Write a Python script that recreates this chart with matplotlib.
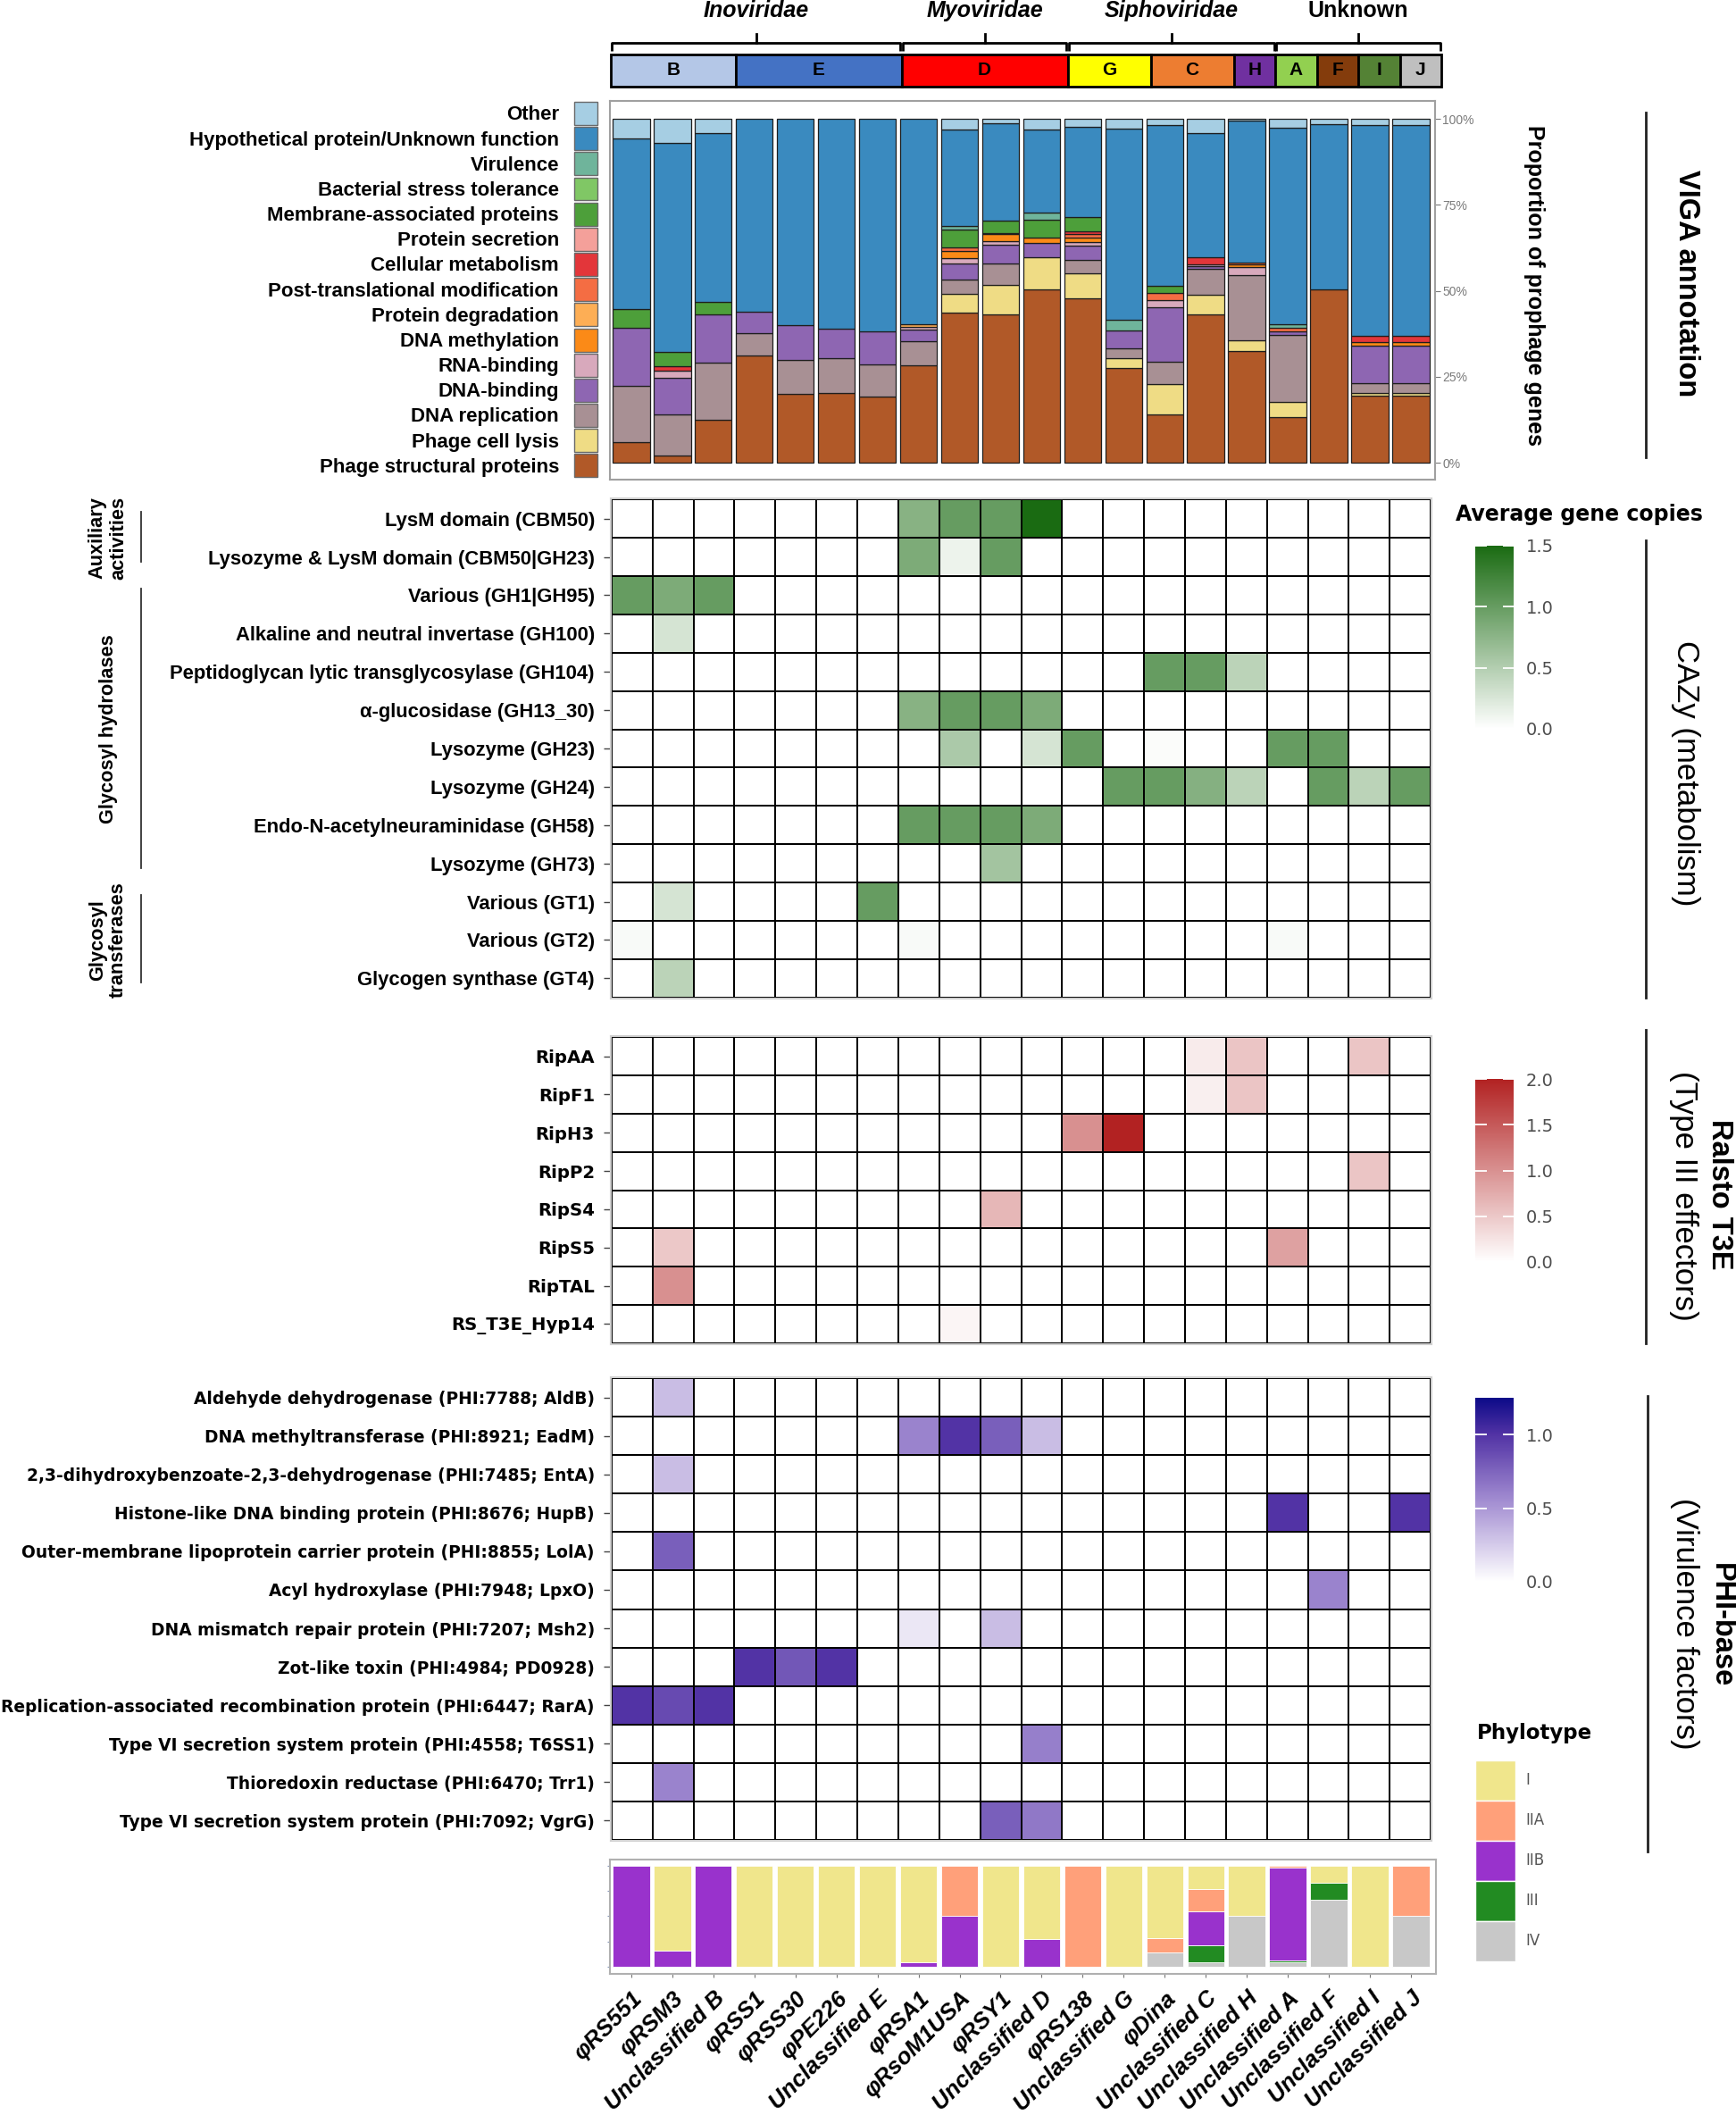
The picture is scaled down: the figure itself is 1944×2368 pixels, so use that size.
import numpy as np
import matplotlib.pyplot as plt
from matplotlib.colors import LinearSegmentedColormap, Normalize
from matplotlib.cm import ScalarMappable
from matplotlib.patches import Patch
from matplotlib.lines import Line2D
from matplotlib.transforms import blended_transform_factory

plt.rcParams['font.family'] = ['Liberation Sans', 'DejaVu Sans']

W, H = 1944, 2368


def box(x0, y0, x1, y1):
    # pixel box (top-left origin) -> figure fraction rect
    return [x0 / W, 1 - y1 / H, (x1 - x0) / W, (y1 - y0) / H]


def fx(x):
    return x / W


def fy(y):
    return 1 - y / H


# ---------------- data ----------------
phages = ['φRS551', 'φRSM3', 'Unclassified B', 'φRSS1', 'φRSS30', 'φPE226', 'Unclassified E',
          'φRSA1', 'φRsoM1USA', 'φRSY1', 'Unclassified D', 'φRS138', 'Unclassified G', 'φDina',
          'Unclassified C', 'Unclassified H', 'Unclassified A', 'Unclassified F', 'Unclassified I',
          'Unclassified J']

clusters = ['B', 'E', 'D', 'G', 'C', 'H', 'A', 'F', 'I', 'J']
cluster_sizes = [3, 4, 4, 2, 2, 1, 1, 1, 1, 1]
cluster_colors = ['#b4c7e7', '#4472c4', '#ff0000', '#ffff00', '#ed7d31', '#7030a0',
                  '#92d050', '#843c0c', '#548235', '#bfbfbf']
families = ['Inoviridae', 'Myoviridae', 'Siphoviridae', 'Unknown']
family_sizes = [7, 4, 5, 4]

# VIGA annotation (% of prophage genes), bottom -> top
structural = [6.0, 2.2, 12.5, 31.1, 20.1, 20.3, 19.2, 28.3, 43.2, 42.8, 50.1, 47.5, 27.5, 14.0, 42.8, 32.2, 13.1, 50.3, 19.2, 19.2]
cell_lysis = [0, 0, 0, 0, 0, 0, 0, 0, 5.4, 8.5, 9.2, 7.1, 2.9, 8.7, 5.6, 3.2, 4.4, 0, 0.9, 0.9]
dna_replication = [16.2, 11.8, 16.7, 6.5, 9.9, 10.2, 9.3, 7.0, 4.3, 6.0, 0, 3.9, 2.7, 6.7, 7.6, 18.8, 19.2, 0, 2.9, 2.9]
dna_binding = [16.6, 10.6, 14.0, 6.2, 9.9, 8.4, 9.7, 3.4, 4.5, 5.6, 4.1, 4.1, 5.3, 15.7, 0.7, 0, 1.1, 0, 10.6, 10.6]
rna_binding = [0, 2.2, 0, 0, 0, 0, 0, 0.8, 1.7, 1.0, 0, 1.1, 0, 2.0, 0.4, 2.2, 0, 0, 0, 0]
dna_methylation = [0, 0, 0, 0, 0, 0, 0, 0, 2.0, 1.9, 1.7, 1.1, 0, 0, 0, 0.8, 0, 0, 1.0, 1.0]
protein_degradation = [0, 0, 0, 0, 0, 0, 0, 0.8, 0, 0, 0, 0, 0, 0, 0, 0, 0, 0, 0, 0]
post_translational = [0, 0, 0, 0, 0, 0, 0, 0, 1.0, 0, 0, 1.0, 0, 2.0, 0, 0.7, 1.1, 0, 0, 0]
cellular_metabolism = [0, 1.3, 0, 0, 0, 0, 0, 0, 0, 0.3, 0, 0.9, 0, 0, 2.2, 0, 0, 0, 1.8, 1.8]
protein_secretion = [0] * 20
membrane = [5.4, 4.1, 3.5, 0, 0, 0, 0, 0, 5.2, 3.6, 5.2, 4.1, 0, 2.2, 0, 0, 0, 0, 0, 0]
stress_tolerance = [0] * 20
virulence = [0, 0, 0, 0, 0, 0, 0, 0, 1.0, 0, 2.0, 0, 2.9, 0, 0, 0, 1.1, 0, 0, 0]
hypothetical = [49.3, 60.7, 49.3, 56.2, 60.1, 61.1, 61.8, 59.7, 27.7, 28.1, 24.1, 26.1, 55.5, 46.5, 35.6, 40.9, 56.4, 48.0, 60.6, 60.6]
other = [5.6, 6.9, 4.1, 0, 0, 0, 0, 0, 3.2, 1.3, 3.0, 2.2, 2.8, 1.9, 4.2, 0.5, 2.6, 1.6, 1.9, 1.9]

viga_labels = ['Phage structural proteins', 'Phage cell lysis', 'DNA replication', 'DNA-binding',
               'RNA-binding', 'DNA methylation', 'Protein degradation', 'Post-translational modification',
               'Cellular metabolism', 'Protein secretion', 'Membrane-associated proteins',
               'Bacterial stress tolerance', 'Virulence', 'Hypothetical protein/Unknown function', 'Other']
viga_values = [structural, cell_lysis, dna_replication, dna_binding, rna_binding, dna_methylation,
               protein_degradation, post_translational, cellular_metabolism, protein_secretion,
               membrane, stress_tolerance, virulence, hypothetical, other]
viga_colors = ['#b15928', '#efdc85', '#a89094', '#8e66b2', '#d8a9bc', '#fb8a17', '#fdae55',
               '#f46d43', '#e3363a', '#f4a09a', '#4d9f3a', '#80c765', '#6fb49b', '#3a8abf', '#a6cee3']

# CAZy (average gene copies)
cazy_rows = ['LysM domain (CBM50)', 'Lysozyme & LysM domain (CBM50|GH23)', 'Various (GH1|GH95)',
             'Alkaline and neutral invertase (GH100)', 'Peptidoglycan lytic transglycosylase (GH104)',
             'α-glucosidase (GH13_30)', 'Lysozyme (GH23)', 'Lysozyme (GH24)',
             'Endo-N-acetylneuraminidase (GH58)', 'Lysozyme (GH73)', 'Various (GT1)', 'Various (GT2)',
             'Glycogen synthase (GT4)']
cazy_values = [
    [0, 0, 0, 0, 0, 0, 0, 0.78, 1.0, 1.0, 1.5, 0, 0, 0, 0, 0, 0, 0, 0, 0],
    [0, 0, 0, 0, 0, 0, 0, 0.85, 0.12, 1.0, 0, 0, 0, 0, 0, 0, 0, 0, 0, 0],
    [1.0, 0.85, 1.0, 0, 0, 0, 0, 0, 0, 0, 0, 0, 0, 0, 0, 0, 0, 0, 0, 0],
    [0, 0.28, 0, 0, 0, 0, 0, 0, 0, 0, 0, 0, 0, 0, 0, 0, 0, 0, 0, 0],
    [0, 0, 0, 0, 0, 0, 0, 0, 0, 0, 0, 0, 0, 1.0, 1.0, 0.45, 0, 0, 0, 0],
    [0, 0, 0, 0, 0, 0, 0, 0.78, 1.0, 1.0, 0.85, 0, 0, 0, 0, 0, 0, 0, 0, 0],
    [0, 0, 0, 0, 0, 0, 0, 0, 0.55, 0, 0.28, 1.0, 0, 0.03, 0, 0, 1.0, 1.0, 0, 0],
    [0, 0, 0, 0, 0, 0, 0, 0, 0, 0, 0, 0, 1.0, 1.0, 0.8, 0.45, 0, 1.0, 0.45, 1.0],
    [0, 0, 0, 0, 0, 0, 0, 1.0, 1.0, 1.0, 0.85, 0, 0, 0, 0, 0, 0, 0, 0, 0],
    [0, 0, 0, 0, 0, 0, 0, 0, 0, 0.6, 0, 0, 0, 0, 0, 0, 0, 0, 0, 0],
    [0, 0.28, 0, 0, 0, 0, 1.0, 0, 0, 0, 0, 0, 0, 0, 0, 0, 0, 0, 0, 0],
    [0.05, 0, 0, 0, 0, 0, 0, 0.05, 0, 0, 0, 0, 0, 0, 0, 0, 0.05, 0, 0, 0],
    [0, 0.45, 0, 0, 0, 0, 0, 0, 0, 0, 0, 0, 0, 0, 0, 0, 0, 0, 0, 0],
]
cazy_groups = ['Auxiliary\nactivities', 'Glycosyl hydrolases', 'Glycosyl\ntransferases']
cazy_group_rows = [(0, 2), (2, 10), (10, 13)]

# Ralstonia type III effectors
t3e_rows = ['RipAA', 'RipF1', 'RipH3', 'RipP2', 'RipS4', 'RipS5', 'RipTAL', 'RS_T3E_Hyp14']
t3e_values = [
    [0, 0, 0, 0, 0, 0, 0, 0, 0, 0, 0, 0, 0, 0, 0.18, 0.53, 0, 0, 0.53, 0],
    [0, 0, 0, 0, 0, 0, 0, 0, 0, 0, 0, 0, 0, 0, 0.15, 0.53, 0, 0, 0, 0],
    [0, 0, 0, 0, 0, 0, 0, 0, 0, 0, 0, 1.0, 2.0, 0, 0, 0, 0, 0, 0, 0],
    [0, 0, 0, 0, 0, 0, 0, 0, 0, 0, 0, 0, 0, 0, 0, 0, 0, 0, 0.53, 0],
    [0, 0, 0, 0, 0, 0, 0, 0, 0, 0.65, 0, 0, 0, 0, 0, 0, 0, 0, 0, 0],
    [0, 0.5, 0, 0, 0, 0, 0, 0, 0, 0, 0, 0, 0, 0, 0, 0, 0.85, 0, 0, 0],
    [0, 1.0, 0, 0, 0, 0, 0, 0, 0, 0, 0, 0, 0, 0, 0, 0, 0, 0, 0, 0],
    [0, 0, 0, 0, 0, 0, 0, 0, 0.1, 0, 0, 0, 0, 0, 0, 0, 0, 0, 0, 0],
]

# PHI-base virulence factors
phi_rows = ['Aldehyde dehydrogenase (PHI:7788; AldB)', 'DNA methyltransferase (PHI:8921; EadM)',
            '2,3-dihydroxybenzoate-2,3-dehydrogenase (PHI:7485; EntA)',
            'Histone-like DNA binding protein (PHI:8676; HupB)',
            'Outer-membrane lipoprotein carrier protein (PHI:8855; LolA)',
            'Acyl hydroxylase (PHI:7948; LpxO)', 'DNA mismatch repair protein (PHI:7207; Msh2)',
            'Zot-like toxin (PHI:4984; PD0928)',
            'Replication-associated recombination protein (PHI:6447; RarA)',
            'Type VI secretion system protein (PHI:4558; T6SS1)', 'Thioredoxin reductase (PHI:6470; Trr1)',
            'Type VI secretion system protein (PHI:7092; VgrG)']
phi_values = [
    [0, 0.32, 0, 0, 0, 0, 0, 0, 0, 0, 0, 0, 0, 0, 0, 0, 0, 0, 0, 0],
    [0, 0, 0, 0, 0, 0, 0, 0.6, 1.0, 0.78, 0.32, 0, 0, 0, 0, 0, 0, 0, 0, 0],
    [0, 0.32, 0, 0, 0, 0, 0, 0, 0, 0, 0, 0, 0, 0, 0, 0, 0, 0, 0, 0],
    [0, 0, 0, 0, 0, 0, 0, 0, 0, 0, 0, 0, 0, 0, 0, 0, 1.0, 0, 0, 1.0],
    [0, 0.78, 0, 0, 0, 0, 0, 0, 0, 0, 0, 0, 0, 0, 0, 0, 0, 0, 0, 0],
    [0, 0, 0, 0, 0, 0, 0, 0, 0, 0, 0, 0, 0, 0, 0, 0, 0, 0.6, 0, 0],
    [0, 0, 0, 0, 0, 0, 0, 0.12, 0, 0.32, 0, 0, 0, 0, 0, 0, 0, 0, 0, 0],
    [0, 0, 0, 1.0, 0.82, 1.0, 0, 0, 0, 0, 0, 0, 0, 0, 0, 0, 0, 0, 0, 0],
    [1.0, 0.88, 1.0, 0, 0, 0, 0, 0, 0, 0, 0, 0, 0, 0, 0, 0, 0, 0, 0, 0],
    [0, 0, 0, 0, 0, 0, 0, 0, 0, 0, 0.62, 0, 0, 0, 0, 0, 0, 0, 0, 0],
    [0, 0.6, 0, 0, 0, 0, 0, 0, 0, 0, 0, 0, 0, 0, 0, 0, 0, 0, 0, 0],
    [0, 0, 0, 0, 0, 0, 0, 0, 0, 0.78, 0.65, 0, 0, 0, 0, 0, 0, 0, 0, 0],
]

# host phylotype fractions, bottom -> top
phylo_IV = [0, 0, 0, 0, 0, 0, 0, 0, 0, 0, 0, 0, 0, 0.14, 0.045, 0.5, 0.04, 0.665, 0, 0.5]
phylo_III = [0, 0, 0, 0, 0, 0, 0, 0, 0, 0, 0, 0, 0, 0, 0.17, 0, 0.025, 0.165, 0, 0]
phylo_IIB = [1, 0.16, 1, 0, 0, 0, 0, 0.04, 0.5, 0, 0.27, 0, 0, 0, 0.335, 0, 0.92, 0, 0, 0]
phylo_IIA = [0, 0, 0, 0, 0, 0, 0, 0, 0.5, 0, 0, 1, 0, 0.14, 0.22, 0, 0.015, 0, 0, 0.5]
phylo_I = [0, 0.84, 0, 1, 1, 1, 1, 0.96, 0, 1, 0.73, 0, 1, 0.72, 0.23, 0.5, 0, 0.17, 1, 0]
phylo_labels = ['IV', 'III', 'IIB', 'IIA', 'I']
phylo_values = [phylo_IV, phylo_III, phylo_IIB, phylo_IIA, phylo_I]
phylo_colors = ['#c8c8c8', '#228b22', '#9932cc', '#ffa07a', '#f0e68c']

green_cmap = LinearSegmentedColormap.from_list('cazy', ['#ffffff', '#1a6b12'])
red_cmap = LinearSegmentedColormap.from_list('t3e', ['#ffffff', '#b22222'])
purple_cmap = LinearSegmentedColormap.from_list(
    'phi', [(0, '#ffffff'), (0.45, '#a08ad0'), (0.8, '#5233a5'), (1, '#0c0a88')])

x = np.arange(len(phages))
fig = plt.figure(figsize=(W / 100, H / 100), dpi=100)

# ---------------- header: clusters and families ----------------
axh = fig.add_axes(box(684, 61, 1614, 97))
starts = np.cumsum([0] + cluster_sizes[:-1])
axh.bar(starts, np.ones(len(clusters)), width=cluster_sizes, align='edge', color=cluster_colors,
        edgecolor='black', linewidth=2, clip_on=False)
for s, w, lab in zip(starts, cluster_sizes, clusters):
    axh.text(s + w / 2, 0.5, lab, ha='center', va='center', fontsize=15, weight='bold')
fstarts = np.cumsum([0] + family_sizes[:-1])
for s, w, name in zip(fstarts, family_sizes, families):
    axh.plot([s + 0.03, s + 0.03, s + w - 0.03, s + w - 0.03], [1.11, 1.36, 1.36, 1.11],
             color='black', lw=2, clip_on=False, solid_capstyle='butt')
    axh.plot([s + w / 2] * 2, [1.36, 1.64], color='black', lw=2, clip_on=False)
    axh.text(s + w / 2, 2.36, name, ha='center', va='center', fontsize=18, weight='bold',
             style='normal' if name == 'Unknown' else 'italic')
axh.set_xlim(0, 20)
axh.set_ylim(0, 1)
axh.axis('off')

# ---------------- VIGA stacked bars ----------------
axv = fig.add_axes(box(683, 113, 1607, 537))
vals = np.array(viga_values, dtype=float)
vals = vals / vals.sum(axis=0)
bottom = np.zeros(len(phages))
for lab, v, c in zip(viga_labels, vals, viga_colors):
    m = v > 0
    axv.bar(x[m], v[m], 0.9, bottom=bottom[m], color=c, edgecolor='#1e1e1e', linewidth=0.9)
    bottom += v
axv.set_xlim(-0.52, 19.59)
axv.set_ylim(-0.049, 1.052)
axv.yaxis.tick_right()
axv.set_yticks([0, 0.25, 0.5, 0.75, 1.0], ['0%', '25%', '50%', '75%', '100%'])
axv.tick_params(axis='y', colors='#7a7a7a', labelsize=10, length=4, pad=2)
axv.set_xticks([])
for sp in axv.spines.values():
    sp.set_color('#a0a0a0')
    sp.set_linewidth(1.5)

viga_handles = [Patch(facecolor=c, edgecolor='#6a6a6a', linewidth=1) for c in viga_colors][::-1]
fig.legend(viga_handles, viga_labels[::-1], loc='upper right', bbox_to_anchor=(fx(669), fy(114)),
           frameon=False, markerfirst=False, prop={'weight': 'bold', 'size': 16},
           handlelength=1.17, handleheight=1.42, handletextpad=0.77, labelspacing=0.1,
           borderpad=0, borderaxespad=0)


# ---------------- heatmaps ----------------
def heatmap(ax, data, rows, cmap, vmax, prop):
    data = np.array(data, dtype=float)
    ax.pcolormesh(np.arange(len(phages) + 1), np.arange(len(rows) + 1), data, cmap=cmap,
                  vmin=0, vmax=vmax, edgecolors='black', linewidth=1.2)
    ax.set_xlim(-0.02, 20.02)
    ax.set_ylim(len(rows) + 0.03, -0.03)
    ax.set_xticks([])
    ax.set_yticks(np.arange(len(rows)) + 0.5, rows)
    for t in ax.get_yticklabels():
        t.set_fontproperties(prop)
    ax.tick_params(axis='y', length=6, width=1, color='#444444', pad=7)
    for sp in ax.spines.values():
        sp.set_color('#d0d0d0')
        sp.set_linewidth(1.5)


axc = fig.add_axes(box(684, 558, 1603, 1118))
heatmap(axc, cazy_values, cazy_rows, green_cmap, 1.5,
        {'family': ['Liberation Sans', 'DejaVu Sans'], 'weight': 'bold', 'size': 15.8})
axt = fig.add_axes(box(684, 1160, 1603, 1505))
heatmap(axt, t3e_values, t3e_rows, red_cmap, 2.0,
        {'family': 'DejaVu Sans', 'weight': 'bold', 'size': 14.2})
axp = fig.add_axes(box(684, 1542, 1603, 2061))
heatmap(axp, phi_values, phi_rows, purple_cmap, 1.25,
        {'family': 'DejaVu Sans', 'weight': 'bold', 'size': 13.4})

# CAZy class brackets on the left
tr = blended_transform_factory(fig.transFigure, axc.transData)
for name, (r0, r1) in zip(cazy_groups, cazy_group_rows):
    axc.add_line(Line2D([fx(158)] * 2, [r0 + 0.33, r1 - 0.38], transform=tr, color='#333333',
                        lw=1.3, clip_on=False))
    axc.text(fx(121), (r0 + r1) / 2, name, transform=tr, rotation=90, ha='center', va='center',
             fontsize=15.7, weight='bold', linespacing=1.15, multialignment='center')

# ---------------- phylotype bars ----------------
axf = fig.add_axes(box(683, 2082, 1608, 2210))
bottom = np.zeros(len(phages))
for lab, v, c in zip(phylo_labels, phylo_values, phylo_colors):
    v = np.array(v, dtype=float)
    m = v > 0
    axf.bar(x[m], v[m], 0.9, bottom=bottom[m], color=c, edgecolor='white', linewidth=0.6)
    bottom += v
axf.set_xlim(-0.52, 19.61)
axf.set_ylim(-0.071, 1.062)
axf.set_yticks([0, 0.25, 0.5, 0.75, 1.0], [])
axf.tick_params(axis='y', length=2, color='#8899bb')
axf.set_xticks(x, phages, rotation=45, ha='right', rotation_mode='anchor')
for t in axf.get_xticklabels():
    t.set_fontsize(18.5)
    t.set_fontweight('bold')
    t.set_fontstyle('italic')
axf.tick_params(axis='x', length=3, color='#777777', pad=8)
for sp in axf.spines.values():
    sp.set_color('#b0b0b0')
    sp.set_linewidth(1.5)

# ---------------- colour bars ----------------
def colorbar(rect, cmap, vmax, ticks):
    cax = fig.add_axes(rect)
    cb = fig.colorbar(ScalarMappable(Normalize(0, vmax), cmap), cax=cax, ticks=ticks)
    cb.outline.set_visible(False)
    cax.set_yticklabels(['%.1f' % t for t in ticks])
    cax.tick_params(axis='y', left=True, right=True, direction='in', color='white', length=9,
                    width=1.3, labelcolor='#4d4d4d', labelsize=14, pad=10)
    for t in cax.get_yticklabels():
        t.set_family('DejaVu Sans')
    return cax


colorbar(box(1652, 611, 1695, 816), green_cmap, 1.5, [0, 0.5, 1.0, 1.5])
colorbar(box(1652, 1208, 1695, 1413), red_cmap, 2.0, [0, 0.5, 1.0, 1.5, 2.0])
colorbar(box(1652, 1565, 1695, 1771), purple_cmap, 1.25, [0, 0.5, 1.0])
fig.text(fx(1630), fy(576), 'Average gene copies', ha='left', va='center', family='DejaVu Sans',
         weight='bold', size=17)

fig.text(fx(1654), fy(1940), 'Phylotype', ha='left', va='center', family='DejaVu Sans',
         weight='bold', size=16.5)
phylo_handles = [Patch(facecolor=c, edgecolor='white', linewidth=1) for c in phylo_colors][::-1]
fig.legend(phylo_handles, phylo_labels[::-1], loc='upper left', bbox_to_anchor=(fx(1652), fy(1971)),
           frameon=False, prop={'family': 'DejaVu Sans', 'size': 12}, labelcolor='#555555',
           handlelength=2.7, handleheight=3.77, handletextpad=0.66, labelspacing=0.0,
           borderpad=0, borderaxespad=0)

# ---------------- right-hand section labels ----------------
for x0, y0, y1 in [(1843, 126, 512), (1843, 605, 1117), (1843, 1153, 1504), (1845, 1563, 2073)]:
    fig.add_artist(Line2D([fx(x0)] * 2, [fy(y0), fy(y1)], color='#222222', lw=2))

fig.text(fx(1718), fy(320), 'Proportion of prophage genes', rotation=-90, ha='center', va='center',
         weight='bold', size=18)
fig.text(fx(1888), fy(317), 'VIGA annotation', rotation=-90, ha='center', va='center',
         weight='bold', size=23.5)
fig.text(fx(1887), fy(866), 'CAZy (metabolism)', rotation=-90, ha='center', va='center', size=25)
fig.text(fx(1925), fy(1337), 'Ralsto T3E', rotation=-90, ha='center', va='center',
         weight='bold', size=23.5)
fig.text(fx(1885), fy(1339), '(Type III effectors)', rotation=-90, ha='center', va='center', size=25)
fig.text(fx(1927), fy(1820), 'PHI-base', rotation=-90, ha='center', va='center',
         weight='bold', size=23.5)
fig.text(fx(1886), fy(1818), '(Virulence factors)', rotation=-90, ha='center', va='center', size=25)

fig.savefig('out.png', dpi=100, facecolor='white')
